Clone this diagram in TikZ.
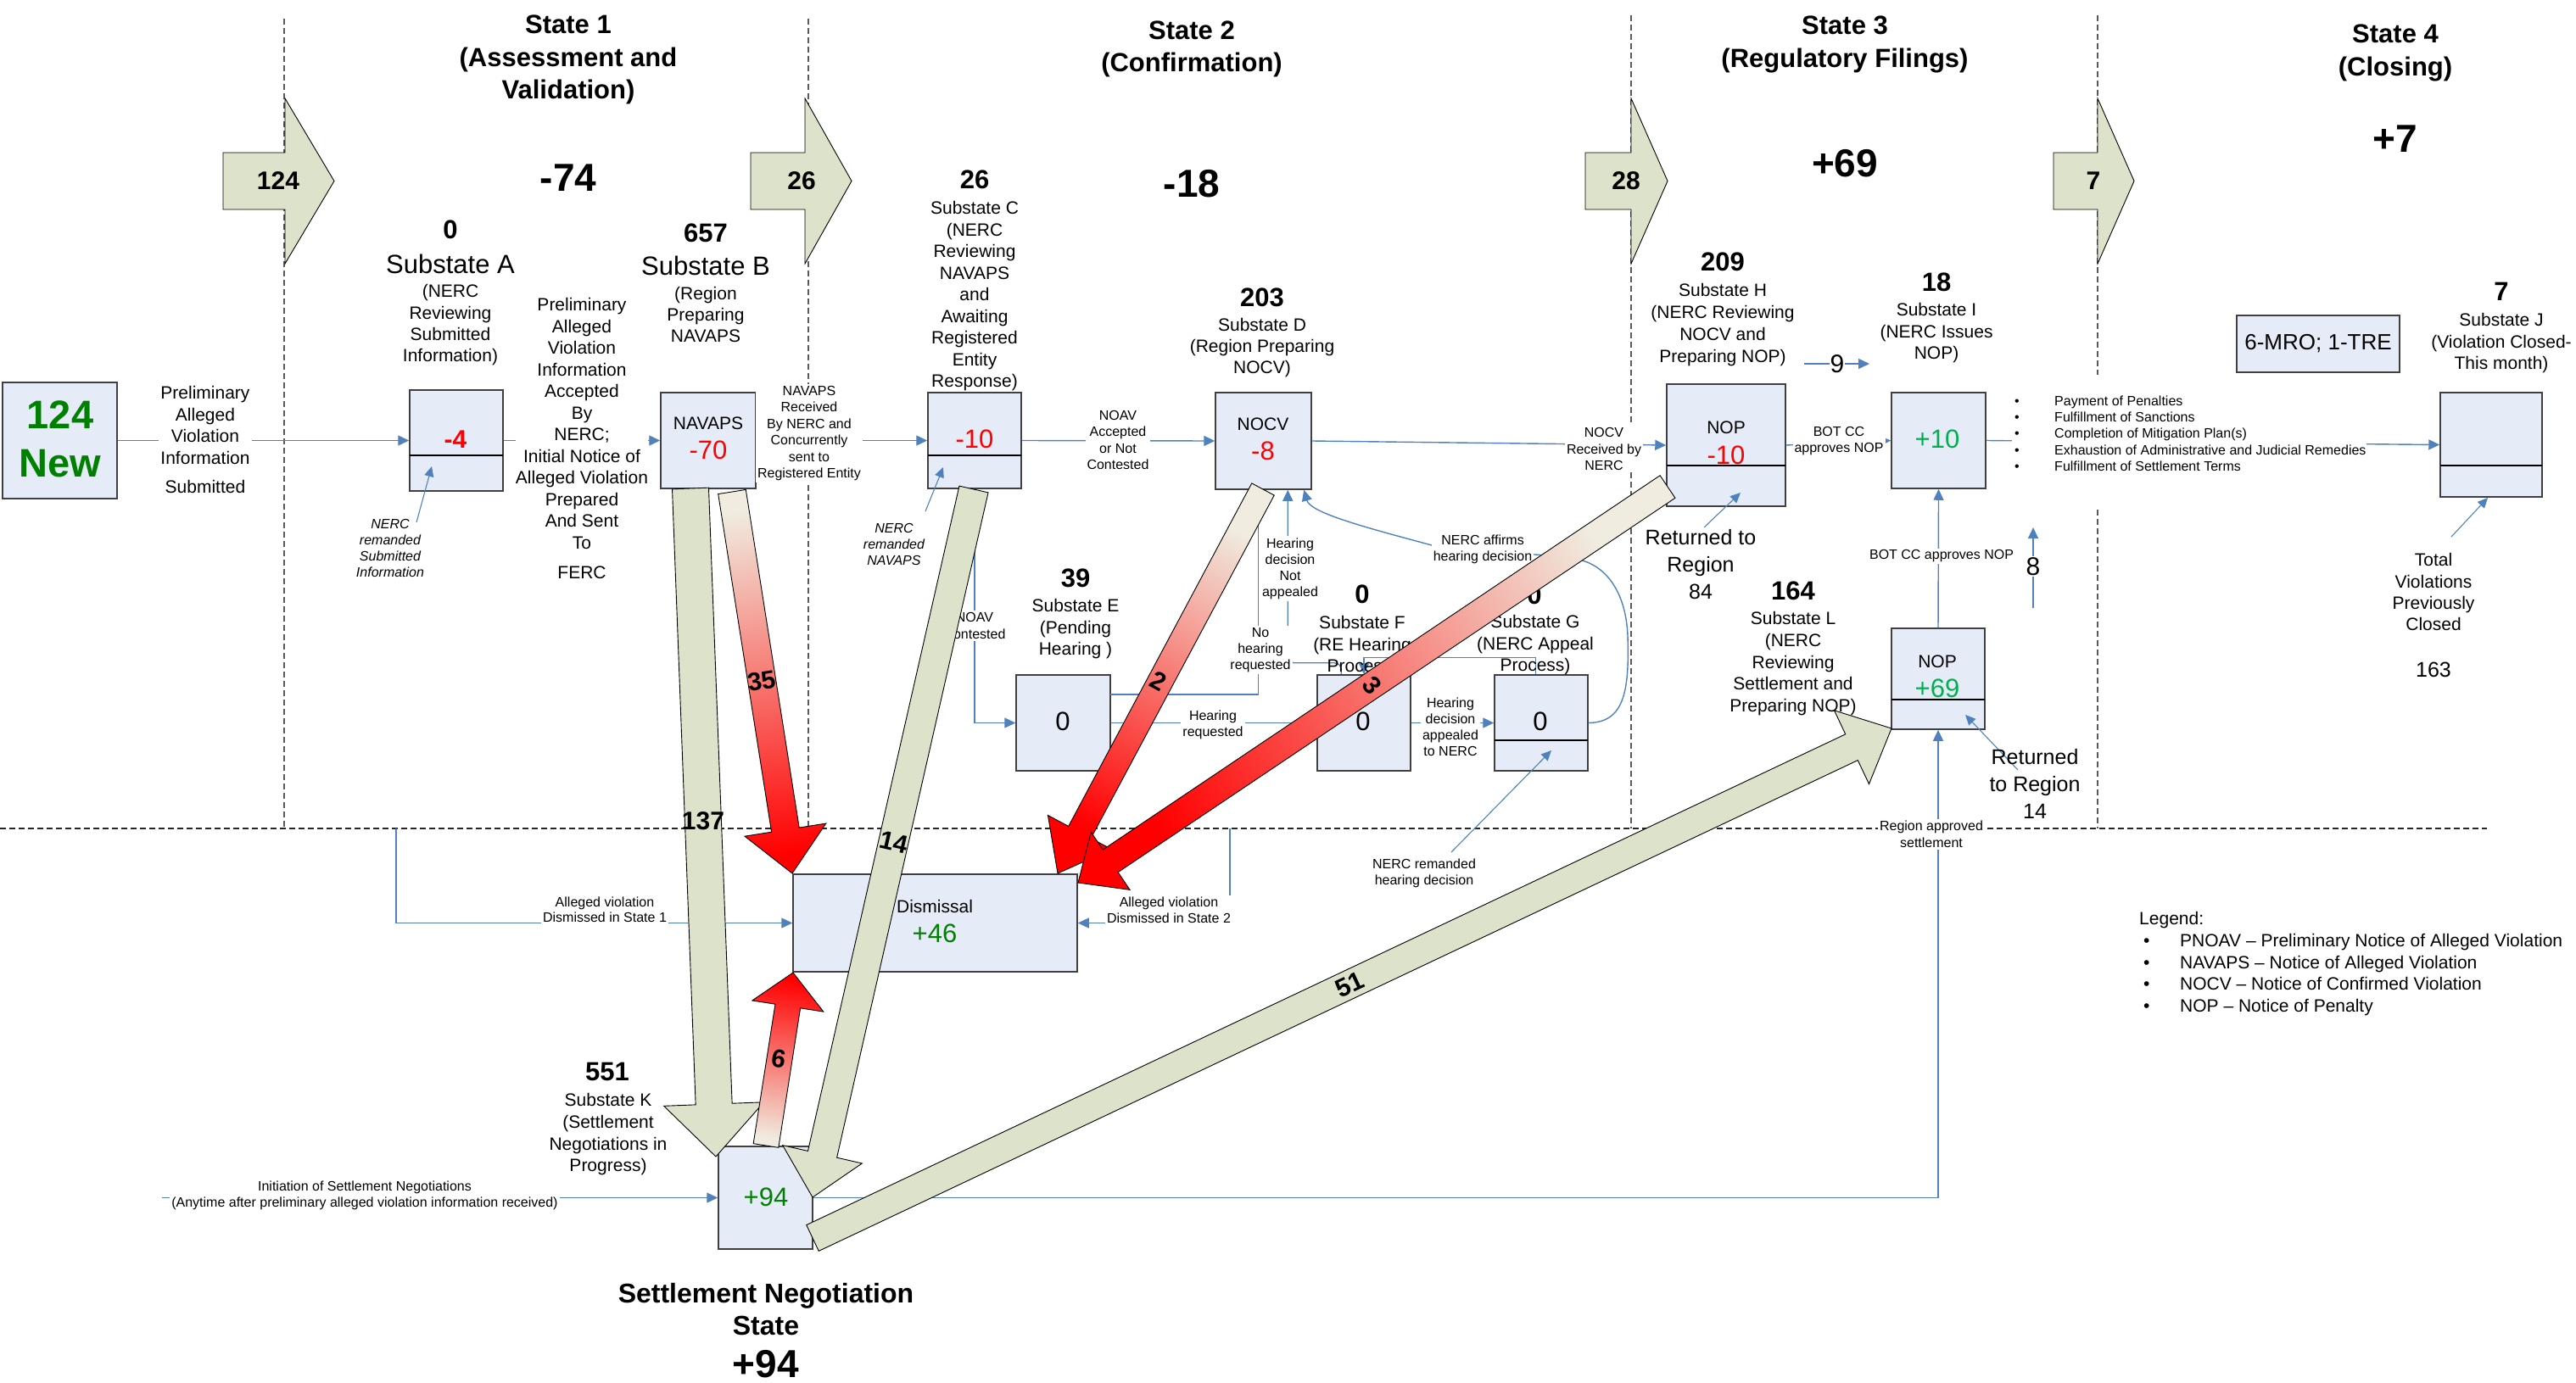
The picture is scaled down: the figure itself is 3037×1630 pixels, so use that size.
\documentclass[tikz,border=0pt]{standalone}
\usepackage{fontspec}
\setmainfont{Liberation Sans}
\usetikzlibrary{arrows.meta,calc}
\definecolor{boxfill}{RGB}{230,236,247}
\definecolor{boxedge}{RGB}{64,64,64}
\definecolor{connblue}{RGB}{79,129,189}
\definecolor{chevfill}{RGB}{221,226,203}
\definecolor{redtail}{RGB}{240,236,224}
\definecolor{redtip}{RGB}{255,0,0}
\definecolor{dkgreen}{RGB}{0,128,0}
\definecolor{brgreen}{RGB}{0,176,80}
\definecolor{numred}{RGB}{255,0,0}
\definecolor{sepgray}{RGB}{90,90,90}
\newcommand\fsz[2]{\fontsize{#1pt}{#2pt}\selectfont}
\newcommand\chevron[3]{\draw[chevst] (#1,180) -- (#2,180) -- (#2,116) -- (#3,213.5) -- (#2,311) -- (#2,247) -- (#1,247) -- cycle;}
\newcommand\fatarrow[8]{%
 \pgfmathsetmacro\FAdx{#3-(#1)}%
 \pgfmathsetmacro\FAdy{#4-(#2)}%
 \pgfmathsetmacro\FAl{100*veclen(\FAdx/100,\FAdy/100)}%
 \pgfmathsetmacro\FAux{\FAdx/\FAl}%
 \pgfmathsetmacro\FAuy{\FAdy/\FAl}%
 \pgfmathsetmacro\FAbx{#1+\FAux*(\FAl-#7)}%
 \pgfmathsetmacro\FAby{#2+\FAuy*(\FAl-#7)}%
 \pgfmathsetmacro\FAnx{-\FAuy*#5/2}%
 \pgfmathsetmacro\FAny{\FAux*#5/2}%
 \pgfmathsetmacro\FAhx{-\FAuy*#6/2}%
 \pgfmathsetmacro\FAhy{\FAux*#6/2}%
 \path[#8] ($(#1,#2)+(\FAnx,\FAny)$) -- ($(\FAbx,\FAby)+(\FAnx,\FAny)$) -- ($(\FAbx,\FAby)+(\FAhx,\FAhy)$) -- (#3,#4) -- ($(\FAbx,\FAby)-(\FAhx,\FAhy)$) -- ($(\FAbx,\FAby)-(\FAnx,\FAny)$) -- ($(#1,#2)-(\FAnx,\FAny)$) -- cycle;%
}
\begin{document}
\begin{tikzpicture}[x=1pt,y=-1pt,
 sbox/.style={draw=boxedge,fill=boxfill,line width=1.5pt,inner sep=0pt},
 conn/.style={draw=connblue,line width=1.4pt,-{Triangle[length=13pt,width=12pt]}},
 thinconn/.style={draw=connblue,line width=1.1pt,-{Triangle[length=12pt,width=11pt]}},
 sepline/.style={draw=sepgray,line width=1.2pt,dash pattern=on 7pt off 4pt},
 hsepline/.style={draw=black!85,line width=1.5pt,dash pattern=on 7pt off 4pt},
 txt/.style={inner sep=0pt,align=center},
 lbl/.style={fill=white,inner sep=2pt,align=center},
 divl/.style={draw=black,line width=1.3pt},
 chevst/.style={fill=chevfill,draw=black,line width=0.9pt},
 greenarrow/.style={fill=chevfill,draw=black,line width=0.9pt},
 redarrow/.style={draw=black,line width=0.9pt,top color=redtip,bottom color=redtail,shading angle=#1},
 alabel/.style={font=\bfseries\fsz{30}{32},inner sep=0pt},
 bignum/.style={txt,font=\bfseries\fsz{46}{50}},
 subnum/.style={txt,font=\bfseries\fsz{31}{33}},
 desc/.style={txt,anchor=north,font=\fsz{21}{25.5}},
 small/.style={lbl,anchor=north,font=\fsz{16}{19.2}},
 boxnum/.style={txt,font=\fsz{31}{33}},
 boxword/.style={txt,font=\fsz{21}{24}},
 title/.style={txt,anchor=north,font=\bfseries\fsz{31}{38.5}}
]
\useasboundingbox (0,0) rectangle (3037,1630);

% separators
\draw[sepline] (335,22) -- (335,977);
\draw[sepline] (953,22) -- (953,977);
\draw[sepline] (1923,18) -- (1923,977);
\draw[sepline] (2473,18) -- (2473,977);
\draw[hsepline] (0,977) -- (2932,977);

% state chevrons
\chevron{263}{336}{394}
\chevron{885}{949}{1004}
\chevron{1869}{1923}{1966}
\chevron{2421}{2473}{2516}
\node[txt,font=\bfseries\fsz{30}{32}] (c124) at (328,213) {124};
\node[txt,font=\bfseries\fsz{30}{32}] (c26) at (945,213) {26};
\node[txt,font=\bfseries\fsz{30}{32}] (c28) at (1917,213) {28};
\node[txt,font=\bfseries\fsz{30}{32}] (c7) at (2468,213) {7};

% titles
\node[title] (t1) at (670,17.8) {State 1\\(Assessment and\\Validation)};
\node[title] (t2) at (1405,24.5) {State 2\\(Confirmation)};
\node[title] (t3) at (2175,18.8) {State 3\\(Regulatory Filings)};
\node[title] (t4) at (2824,28.8) {State 4\\(Closing)};
\node[bignum] (d1) at (670,210) {-74};
\node[bignum] (d2) at (1405,217) {-18};
\node[bignum] (d3) at (2175,193) {+69};
\node[bignum] (d4) at (2824,164) {+7};

% boxes
\node[sbox,minimum width=135pt,minimum height=137pt] (New) at (70.5,519.5) {};
\node[sbox,minimum width=110pt,minimum height=119pt] (A) at (538,519.5) {};
\node[sbox,minimum width=112pt,minimum height=113pt] (B) at (835,519.5) {};
\node[sbox,minimum width=110pt,minimum height=113pt] (C) at (1149,519.5) {};
\node[sbox,minimum width=113pt,minimum height=114pt] (D) at (1489.5,520) {};
\node[sbox,minimum width=140pt,minimum height=144pt] (H) at (2035,525) {};
\node[sbox,minimum width=111pt,minimum height=113pt] (I) at (2285.5,519.5) {};
\node[sbox,minimum width=120pt,minimum height=123pt] (J) at (2937,524.5) {};
\node[sbox,minimum width=192pt,minimum height=67pt,font=\fsz{26}{30}] (MRO) at (2733,405.5) {6-MRO; 1-TRE};
\node[sbox,minimum width=111pt,minimum height=113pt] (E) at (1253.5,852.5) {};
\node[sbox,minimum width=110pt,minimum height=113pt] (F) at (1608,852.5) {};
\node[sbox,minimum width=110pt,minimum height=113pt] (G) at (1817,852.5) {};
\node[sbox,minimum width=110pt,minimum height=119pt] (L) at (2285,800.5) {};
\node[sbox,minimum width=335pt,minimum height=115pt] (Dis) at (1102.5,1088.5) {};
\node[sbox,minimum width=111pt,minimum height=121pt] (K) at (902.5,1412.5) {};
\draw[divl] (483,537) -- (593,537);
\draw[divl] (1094,537) -- (1204,537);
\draw[divl] (1965,549) -- (2105,549);
\draw[divl] (2877,549) -- (2997,549);
\draw[divl] (1762,873) -- (1872,873);
\draw[divl] (2230,825) -- (2340,825);

% box contents
\node[txt,font=\bfseries\fsz{47}{52},text=dkgreen] (new1) at (71,489) {124};
\node[txt,font=\bfseries\fsz{47}{52},text=dkgreen] (new2) at (71,547) {New};
\node[txt,font=\bfseries\fsz{30}{32},text=numred] (vA) at (537,518) {-4};
\node[boxword] (wB) at (835,499) {NAVAPS};
\node[boxnum,text=numred] (vB) at (835,531) {-70};
\node[boxnum,text=numred] (vC) at (1149,518) {-10};
\node[boxword] (wD) at (1489,500) {NOCV};
\node[boxnum,text=numred] (vD) at (1489,532) {-8};
\node[boxword] (wH) at (2035,504) {NOP};
\node[boxnum,text=numred] (vH) at (2035,537) {-10};
\node[boxnum,text=brgreen] (vI) at (2284,518) {+10};
\node[boxword] (wL) at (2284,780) {NOP};
\node[boxnum,text=brgreen] (vL) at (2284,812) {+69};
\node[boxnum] (vE) at (1253,851) {0};
\node[boxnum] (vF) at (1607,851) {0};
\node[boxnum] (vG) at (1816,851) {0};
\node[boxnum,text=dkgreen] (vK) at (903,1412) {+94};
\node[boxword] (wDis) at (1102,1069) {Dismissal};
\node[boxnum,text=dkgreen] (vDis) at (1102,1101) {+46};

% connectors
\draw[conn] (New.east) -- (A.west);
\draw[conn] (A.east) -- (B.west);
\draw[conn] (B.east) -- (C.west);
\draw[conn] (C.east) -- (D.west);
\draw[conn] (D.east) -- (H.west);
\draw[conn] (H.east) -- (I.west);
\draw[conn] (I.east) -- (J.west);
\draw[conn] (L.north) -- (I.south);
\draw[conn] (K.east) -| (L.south);
\draw[conn] (C.south) |- (E.west);
\draw[conn] (E.east) -- (F.west);
\draw[conn] (F.east) -- (G.west);
\coordinate (nh0) at (1309,819);
\draw[conn] (nh0) -| ($(D.south west)+(51,0)$);
\draw[conn,rounded corners=8pt] ($(F.north west)+(29,0)$) |- ($(D.south west)+(86,204)$) -- ($(D.south west)+(86,0)$);
\draw[conn] ($(G.north west)+(49,0)$) |- ($(F.north)+(0,-20)$) -- (F.north);
\draw[conn] (G.east) .. controls (1915,852) and (1921,815) .. (1919,750) .. controls (1917,700) and (1895,668) .. (1862,660) .. controls (1830,652) and (1720,652) .. (1688,643) .. controls (1610,622) and (1545,605) .. ($(D.south west)+(105,0)$);
\coordinate (ds1) at (467,977);
\draw[conn] (ds1) |- (Dis.west);
\coordinate (ds2) at (1450,977);
\draw[conn] (ds2) |- (Dis.east);
\coordinate (ini) at (191,1412.5);
\draw[conn] (ini) -- (K.west);
\coordinate (n9a) at (2127,429); \coordinate (n9b) at (2204,429);
\draw[conn] (n9a) -- (n9b);
\coordinate (n8a) at (2397,717); \coordinate (n8b) at (2397,622);
\draw[conn] (n8a) -- (n8b);
\coordinate (rAt) at (491,616); \coordinate (rAh) at (509,550);
\draw[thinconn] (rAt) -- (rAh);
\coordinate (rCt) at (1091,603); \coordinate (rCh) at (1112,551);
\draw[thinconn] (rCt) -- (rCh);
\coordinate (rGt) at (1711,1005); \coordinate (rGh) at (1829,885);
\draw[thinconn] (rGt) -- (rGh);
\coordinate (rHt) at (2009,622); \coordinate (rHh) at (2052,581);
\draw[thinconn] (rHt) -- (rHh);
\coordinate (rLt) at (2379,908); \coordinate (rLh) at (2317,843);
\draw[thinconn] (rLt) -- (rLh);
\coordinate (rJt) at (2890,633); \coordinate (rJh) at (2933,587);
\draw[thinconn] (rJt) -- (rJh);

% connector labels (white backed)
\node[lbl,anchor=north,font=\fsz{21}{25.5}] (l1) at (242,453.4) {Preliminary\\Alleged\\Violation\\Information\\[9pt]Submitted};
\node[lbl,anchor=north,font=\fsz{21}{25.5},inner sep=0pt] (l2) at (686,351.4) {Preliminary\\Alleged\\Violation\\Information\\Accepted\\By\\NERC;\\Initial Notice of\\Alleged Violation\\Prepared\\And Sent\\To\\[9.5pt]FERC};
\node[small,font=\fsz{16}{19.4}] (l3) at (954,453.2) {NAVAPS\\Received\\By NERC and\\Concurrently\\sent to\\Registered Entity};
\node[small,font=\fsz{16}{19.3}] (l4) at (1318,482.2) {NOAV\\Accepted\\or Not\\Contested};
\node[small,font=\fsz{16}{19.5}] (l5) at (1891,502.2) {NOCV\\Received by\\NERC};
\node[small] (l6) at (2168,501.2) {BOT CC\\approves NOP};
\node[lbl,font=\fsz{30}{32},inner sep=1pt] (l7) at (2166,429) {9};
\node[lbl,font=\fsz{16}{19}] (l8) at (2289,656) {BOT CC approves NOP};
\node[lbl,font=\fsz{30}{32},inner sep=1pt] (l9) at (2397,668) {8};
\node[small,font=\fsz{16}{20}] (l10) at (2277,965.6) {Region approved\\settlement};
\node[small,font=\fsz{16}{20}] (l11) at (1149,720.2) {NOAV\\Contested};
\node[small] (l12) at (1486,738.2) {No\\hearing\\requested};
\node[small,font=\fsz{16}{19.3}] (l13) at (1521,632.2) {Hearing\\decision\\Not\\appealed};
\node[small] (l14) at (1430,835.2) {Hearing\\requested};
\node[small] (l15) at (1710,820.2) {Hearing\\decision\\appealed\\to NERC};
\node[small] (l16) at (1748,628.2) {NERC affirms\\hearing decision};
\node[small,font=\fsz{16}{18.5}] (l17) at (713,1055.6) {Alleged violation\\Dismissed in State 1};
\node[small,font=\fsz{16}{19}] (l18) at (1378,1055.6) {Alleged violation\\Dismissed in State 2};
\node[small,font=\fsz{16}{19}] (l19) at (430,1390.6) {Initiation of Settlement Negotiations\\(Anytime after preliminary alleged violation information received)};
\fill[white] (2372,442) rectangle (2790,598);
\node[txt,anchor=north west,align=left,font=\fsz{16}{19.4}] (bul) at (2375,466.2) {\makebox[47pt][l]{•}Payment of Penalties\\\makebox[47pt][l]{•}Fulfillment of Sanctions\\\makebox[47pt][l]{•}Completion of Mitigation Plan(s)\\\makebox[47pt][l]{•}Exhaustion of Administrative and Judicial Remedies\\\makebox[47pt][l]{•}Fulfillment of Settlement Terms};

% other texts
\node[txt,anchor=north,font=\itshape\fsz{16}{19}] (r1) at (460,612.2) {NERC\\remanded\\Submitted\\Information};
\node[txt,anchor=north,font=\itshape\fsz{16}{19}] (r2) at (1054,617.2) {NERC\\remanded\\NAVAPS};
\node[txt,anchor=north,font=\fsz{16}{19}] (r3) at (1679,1012.2) {NERC remanded\\hearing decision};

\node[subnum] (nA) at (531,271) {0};
\node[txt,font=\fsz{31}{33}] (sA) at (531,311) {Substate A};
\node[desc,font=\fsz{21}{25.3}] (dA) at (531,335.4) {(NERC\\Reviewing\\Submitted\\Information)};
\node[subnum] (nB) at (832,275) {657};
\node[txt,font=\fsz{31}{33}] (sB) at (832,313) {Substate B};
\node[desc,font=\fsz{21}{25}] (dB) at (832,338.4) {(Region\\Preparing\\NAVAPS};
\node[subnum] (nC) at (1149,212) {26};
\node[desc] (dC) at (1149,237.4) {Substate C\\(NERC\\Reviewing\\NAVAPS\\and\\Awaiting\\Registered\\Entity\\Response)};
\node[subnum] (nD) at (1488,351) {203};
\node[desc,font=\fsz{21}{25}] (dD) at (1488,375.4) {Substate D\\(Region Preparing\\NOCV)};
\node[subnum] (nH) at (2031,309) {209};
\node[desc,font=\fsz{21}{26}] (dH) at (2031,334.4) {Substate H\\(NERC Reviewing\\NOCV and\\Preparing NOP)};
\node[subnum] (nI) at (2283,333) {18};
\node[desc] (dI) at (2283,357.4) {Substate I\\(NERC Issues\\NOP)};
\node[subnum] (nJ) at (2949,344) {7};
\node[desc] (dJ) at (2949,369.4) {Substate J\\(Violation Closed-\\This month)};
\node[txt,anchor=north,font=\fsz{21}{25.3}] (tv) at (2869,652.5) {Total\\Violations\\Previously\\Closed};
\node[txt,font=\fsz{25}{28}] (tv2) at (2869,790) {163};
\node[txt,anchor=north,font=\fsz{25}{32}] (rt1) at (2005,624) {Returned to\\Region\\84};
\node[subnum] (nL) at (2114,697) {164};
\node[desc,font=\fsz{21}{25.7}] (dL) at (2114,721.4) {Substate L\\(NERC\\Reviewing\\Settlement and\\Preparing NOP)};
\node[txt,anchor=north,font=\fsz{25}{32}] (rt2) at (2399,883) {Returned\\to Region\\14};
\node[subnum] (nE) at (1268,682) {39};
\node[desc] (dE) at (1268,706.4) {Substate E\\(Pending\\Hearing )};
\node[subnum] (nF) at (1606,701) {0};
\node[desc] (dF) at (1606,726.4) {Substate F\\(RE Hearing\\Process)};
\node[subnum] (nG) at (1809,702) {0};
\node[desc] (dG) at (1810,725.4) {Substate G\\(NERC Appeal\\Process)};
\node[subnum] (nK) at (716,1264) {551};
\node[desc,font=\fsz{21}{25.7}] (dK) at (717,1289.4) {Substate K\\(Settlement\\Negotiations in\\Progress)};
\node[txt,anchor=north,font=\bfseries\fsz{32}{38}] (sn) at (903,1513.5) {Settlement Negotiation\\State};
\node[bignum] (sn2) at (903,1609) {+94};
\node[txt,anchor=north west,align=left,font=\fsz{21}{25.6}] (leg) at (2522,1075.4) {Legend:\\\hspace*{5pt}\makebox[43pt][l]{•}PNOAV – Preliminary Notice of Alleged Violation\\\hspace*{5pt}\makebox[43pt][l]{•}NAVAPS – Notice of Alleged Violation\\\hspace*{5pt}\makebox[43pt][l]{•}NOCV – Notice of Confirmed Violation\\\hspace*{5pt}\makebox[43pt][l]{•}NOP – Notice of Penalty};

% fat flow arrows
\fatarrow{814}{576}{844}{1364}{43}{118}{62}{greenarrow}
\node[alabel] (a137) at (829,968) {137};
\fatarrow{863}{580}{934}{1030}{33}{97}{52}{redarrow=-171}
\node[alabel,rotate=9] (a35) at (898,803) {35};
\fatarrow{1148}{577}{958}{1412}{35}{96}{52}{greenarrow}
\node[alabel,rotate=-13] (a14) at (1054,993) {14};
\fatarrow{1489}{577}{1247}{1030}{30}{85}{55}{redarrow=151.9}
\node[alabel,rotate=-28] (a2) at (1366,803) {2};
\fatarrow{1966}{574}{1271}{1041}{32}{82}{46}{redarrow=123.9}
\node[alabel,rotate=-50] (a3) at (1618,808) {3};
\fatarrow{903}{1351}{935}{1147}{30}{85}{40}{redarrow=-8.9}
\node[alabel,rotate=-9] (a6) at (918,1249) {6};
\fatarrow{958}{1460}{2230}{859}{34}{96}{52}{greenarrow}
\node[alabel,rotate=25] (a51) at (1591,1161) {51};
\end{tikzpicture}
\end{document}
